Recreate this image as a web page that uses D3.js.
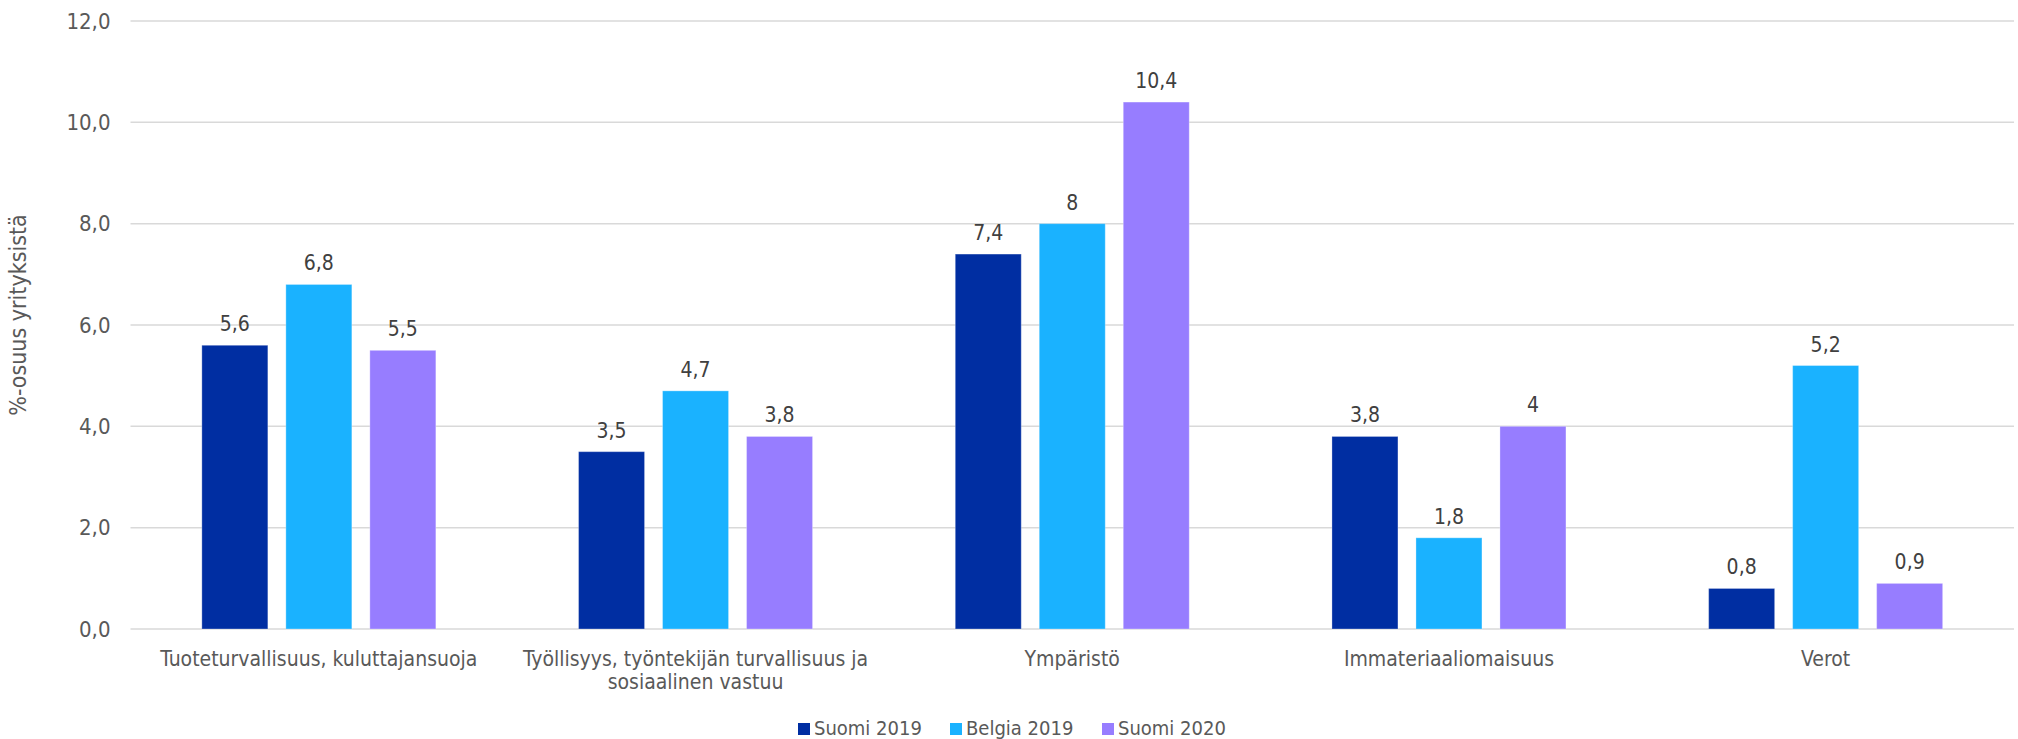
<!DOCTYPE html>
<html>
<head>
<meta charset="utf-8">
<script src="https://cdn.jsdelivr.net/npm/d3@7"></script>
<style>
  html, body { margin: 0; padding: 0; background: #ffffff; }
  svg { display: block; }
  text { font-family: "DejaVu Sans Condensed", "DejaVu Sans", sans-serif; font-stretch: condensed; }
</style>
</head>
<body>
<svg id="chart" width="2018" height="739"></svg>
<script>
// ---- Data ----
const categories = [
  "Tuoteturvallisuus, kuluttajansuoja",
  "Työllisyys, työntekijän turvallisuus ja\nsosiaalinen vastuu",
  "Ympäristö",
  "Immateriaaliomaisuus",
  "Verot"
];
const seriesNames = ["Suomi 2019", "Belgia 2019", "Suomi 2020"];
const suomi2019 = [5.6, 3.5, 7.4, 3.8, 0.8];
const belgia2019 = [6.8, 4.7, 8.0, 1.8, 5.2];
const suomi2020 = [5.5, 3.8, 10.4, 4.0, 0.9];
const yTicks = [0, 2, 4, 6, 8, 10, 12];
const yTitle = "%-osuus yrityksistä";
const seriesColors = ["#002EA2", "#1AB2FF", "#977DFF"];

const seriesValues = [suomi2019, belgia2019, suomi2020];

// ---- Layout ----
const svg = d3.select("#chart");
const plotLeft = 130.5, plotRight = 2014, plotTop = 21, plotBottom = 629;

const y = d3.scaleLinear().domain([0, 12]).range([plotBottom, plotTop]);
const x0 = d3.scaleBand().domain(categories).range([plotLeft, plotRight]).paddingInner(0).paddingOuter(0);
const groupW = 234;
const bw0 = x0.bandwidth();
const x1 = d3.scaleBand().domain(seriesNames)
  .range([(bw0 - groupW) / 2, (bw0 + groupW) / 2])
  .paddingInner(18 / 84).paddingOuter(0);

const locale = d3.formatLocale({ decimal: ",", thousands: "\u00a0", grouping: [3], currency: ["", "€"] });
const tickFmt = locale.format(".1f");
const labelFmt = v => String(v).replace(".", ",");

// Gridlines
svg.append("g")
  .selectAll("line")
  .data(yTicks)
  .join("line")
  .attr("x1", plotLeft).attr("x2", plotRight)
  .attr("y1", d => y(d)).attr("y2", d => y(d))
  .attr("stroke", "#d9d9d9").attr("stroke-width", 1.5);

// Y axis labels (via d3 axis)
const yAxis = d3.axisLeft(y).tickValues(yTicks).tickFormat(tickFmt).tickSize(0).tickPadding(20);
const yAxisG = svg.append("g").attr("transform", `translate(${plotLeft},0)`).call(yAxis);
yAxisG.select(".domain").remove();
yAxisG.selectAll("text")
  .attr("fill", "#595959")
  .style("font-size", "22px")
  .style("font-family", null);

// Y title
svg.append("text")
  .attr("transform", `translate(26, ${(plotTop + plotBottom) / 2 - 10}) rotate(-90)`)
  .attr("text-anchor", "middle")
  .attr("fill", "#595959")
  .style("font-size", "23px")
  .text(yTitle);

// Bars
const rows = categories.map((c, i) => ({ cat: c, vals: seriesNames.map((s, j) => ({ s, j, v: seriesValues[j][i] })) }));
const groups = svg.append("g").selectAll("g")
  .data(rows)
  .join("g")
  .attr("transform", d => `translate(${x0(d.cat)},0)`);

groups.selectAll("rect")
  .data(d => d.vals)
  .join("rect")
  .attr("x", d => x1(d.s))
  .attr("width", x1.bandwidth())
  .attr("y", d => y(d.v))
  .attr("height", d => y(0) - y(d.v))
  .attr("fill", d => seriesColors[d.j])
  .attr("stroke", "#ffffff").attr("stroke-opacity", 0.3).attr("stroke-width", 1);

groups.selectAll("text.val")
  .data(d => d.vals)
  .join("text")
  .attr("class", "val")
  .attr("x", d => x1(d.s) + x1.bandwidth() / 2)
  .attr("y", d => y(d.v) - 14)
  .attr("text-anchor", "middle")
  .attr("fill", "#404040")
  .style("font-size", "21px")
  .text(d => labelFmt(d.v));

// X labels
const xl = svg.append("g").selectAll("text")
  .data(categories)
  .join("text")
  .attr("x", d => x0(d) + bw0 / 2)
  .attr("y", 666)
  .attr("text-anchor", "middle")
  .attr("fill", "#595959")
  .style("font-size", "21px");
xl.selectAll("tspan")
  .data(d => d.split("\n"))
  .join("tspan")
  .attr("x", function () { return d3.select(this.parentNode).attr("x"); })
  .attr("dy", (d, i) => i === 0 ? 0 : 23)
  .text(d => d);

// Legend
const legendX = [798, 950, 1102];
const lg = svg.append("g").selectAll("g")
  .data(seriesNames)
  .join("g")
  .attr("transform", (d, i) => `translate(${legendX[i]},0)`);
lg.append("rect")
  .attr("x", 0).attr("y", 723).attr("width", 12).attr("height", 12)
  .attr("fill", (d, i) => seriesColors[i]);
lg.append("text")
  .attr("x", 16).attr("y", 735)
  .attr("fill", "#595959")
  .style("font-size", "20px")
  .text(d => d);
</script>
</body>
</html>
